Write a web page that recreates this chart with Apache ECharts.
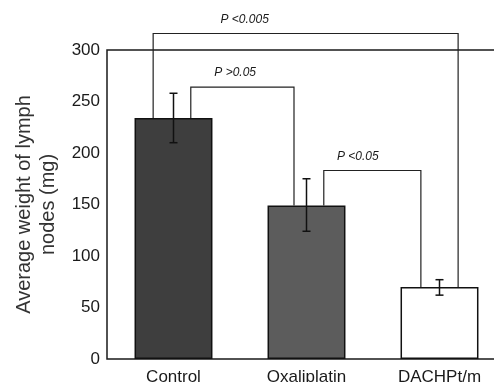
<!DOCTYPE html>
<html>
<head>
<meta charset="utf-8">
<script src="https://cdn.jsdelivr.net/npm/echarts@6/dist/echarts.min.js"></script>
<style>
  html, body { margin: 0; padding: 0; background: #fff; }
  #chart { width: 494px; height: 382px; }
</style>
</head>
<body>
<div id="chart"></div>
<script>
// values
const groups = ['Control', 'Oxaliplatin', 'DACHPt/m']
const meanWeight = [234, 149, 70]
const errLow = [210, 124, 62]
const errHigh = [258, 175, 77]

// significance brackets (group index from / to, top of bracket in mg)
const bracketFrom = [0, 1, 0]
const bracketTo = [1, 2, 2]
const bracketTop = [264, 183, 316]
const bracketText = ['P >0.05', 'P <0.05', 'P <0.005']

// where each leg sits, as part of one category band
const legFromOffset = [0.13, 0.13, -0.153]
const legToOffset = [-0.094, -0.14, 0.14]
const labelAlong = [0.43, 0.35, 0.3]

const barColors = ['#3e3e3e', '#5c5c5c', '#ffffff']
const font = '"Liberation Sans", Arial, sans-serif'

const chart = echarts.init(document.getElementById('chart'))

const options = {
  animation: false,
  grid: {
    left: 107,
    top: 50,
    width: 399,
    height: 309,
    outerBoundsMode: 'none',
    containLabel: false,
    show: true,
    borderColor: '#1a1a1a',
    borderWidth: 1.5
  },
  xAxis: {
    type: 'category',
    data: groups,
    axisLine: { show: false },
    axisTick: { show: false },
    axisLabel: {
      fontFamily: font,
      fontSize: 17,
      color: '#1a1a1a',
      margin: 10
    }
  },
  yAxis: {
    type: 'value',
    min: 0,
    max: 300,
    interval: 50,
    name: 'Average weight of lymph\nnodes (mg)',
    nameLocation: 'middle',
    nameRotate: 90,
    nameGap: 45,
    nameTextStyle: {
      fontFamily: font,
      fontSize: 20,
      color: '#333',
      lineHeight: 24
    },
    axisLine: { show: false },
    axisTick: { show: false },
    splitLine: { show: false },
    axisLabel: {
      fontFamily: font,
      fontSize: 17,
      color: '#1a1a1a',
      margin: 7
    }
  },
  series: [
    {
      type: 'bar',
      barWidth: '58.6%',
      data: meanWeight.map((v, i) => ({
        value: v,
        itemStyle: { color: barColors[i] }
      })),
      itemStyle: { borderColor: '#111', borderWidth: 1.5 },
      z: 2
    },
    {
      // error bars
      type: 'custom',
      z: 3,
      data: groups.map((g, i) => [i, errLow[i], errHigh[i]]),
      renderItem: function (params, api) {
        const lo = api.coord([api.value(0), api.value(1)])
        const hi = api.coord([api.value(0), api.value(2)])
        const cap = 4
        const st = { stroke: '#111', lineWidth: 1.5 }
        return {
          type: 'group',
          children: [
            { type: 'line', shape: { x1: hi[0], y1: hi[1], x2: lo[0], y2: lo[1] }, style: st },
            { type: 'line', shape: { x1: hi[0] - cap, y1: hi[1], x2: hi[0] + cap, y2: hi[1] }, style: st },
            { type: 'line', shape: { x1: lo[0] - cap, y1: lo[1], x2: lo[0] + cap, y2: lo[1] }, style: st }
          ]
        }
      }
    },
    {
      // significance brackets
      type: 'custom',
      clip: false,
      z: 4,
      data: bracketFrom.map((f, i) => [f, bracketTo[i], bracketTop[i], i]),
      renderItem: function (params, api) {
        const k = api.value(3)
        const f = api.value(0)
        const t = api.value(1)
        const band = api.size([1, 0])[0]
        const a = api.coord([f, meanWeight[f]])
        const b = api.coord([t, meanWeight[t]])
        const top = api.coord([f, api.value(2)])[1]
        const x1 = a[0] + legFromOffset[k] * band
        const x2 = b[0] + legToOffset[k] * band
        return {
          type: 'group',
          children: [
            {
              type: 'polyline',
              shape: { points: [[x1, a[1]], [x1, top], [x2, top], [x2, b[1]]] },
              style: { stroke: '#222', lineWidth: 1.2, fill: null }
            },
            {
              type: 'text',
              x: x1 + (x2 - x1) * labelAlong[k],
              y: top - 14,
              style: {
                text: bracketText[k],
                fontFamily: font,
                fontSize: 12,
                fontStyle: 'italic',
                fill: '#1a1a1a',
                align: 'center',
                verticalAlign: 'middle'
              }
            }
          ]
        }
      }
    }
  ]
}

chart.setOption(options)
</script>
</body>
</html>
